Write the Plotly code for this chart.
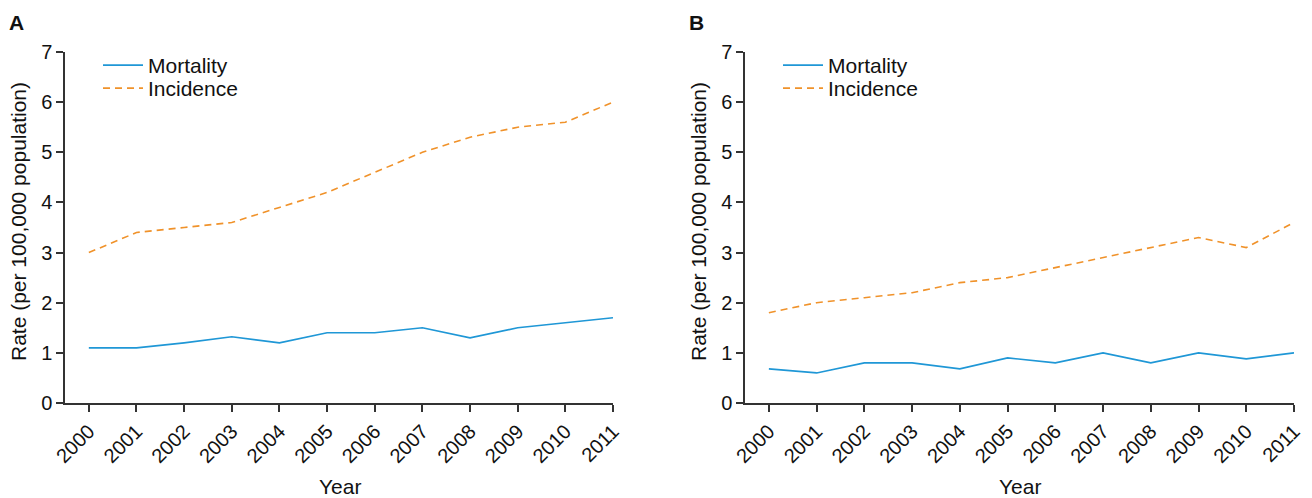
import plotly.graph_objects as go

years = [2000, 2001, 2002, 2003, 2004, 2005, 2006, 2007, 2008, 2009, 2010, 2011]
mortality_a = [1.1, 1.1, 1.2, 1.32, 1.2, 1.4, 1.4, 1.5, 1.3, 1.5, 1.6, 1.7]
incidence_a = [3.0, 3.4, 3.5, 3.6, 3.9, 4.2, 4.6, 5.0, 5.3, 5.5, 5.6, 6.0]
mortality_b = [0.68, 0.6, 0.8, 0.8, 0.68, 0.9, 0.8, 1.0, 0.8, 1.0, 0.88, 1.0]
incidence_b = [1.8, 2.0, 2.1, 2.2, 2.4, 2.5, 2.7, 2.9, 3.1, 3.3, 3.1, 3.6]

BLUE = "#1f97d6"
ORANGE = "#f0922a"
FONT = "Liberation Sans, Arial, sans-serif"
OFF = 8            # page body margin
W, H = 1304, 490   # figure size
TICK_FS = 20
FS = 21


def px(sx):
    return (sx - OFF) / W


def py(sy):
    return 1 - (sy - OFF) / H


fig = go.Figure()
panels = [(mortality_a, incidence_a, "x", "y", "legend", "legend3"),
          (mortality_b, incidence_b, "x2", "y2", "legend2", "legend4")]
for m, inc, xa, ya, lg_m, lg_i in panels:
    fig.add_trace(go.Scatter(x=years, y=m, mode="lines", name="Mortality",
                             line=dict(color=BLUE, width=1.6), xaxis=xa, yaxis=ya, legend=lg_m))
    fig.add_trace(go.Scatter(x=years, y=inc, mode="lines", name="Incidence",
                             line=dict(color=ORANGE, width=1.6, dash="7px,5px"), xaxis=xa, yaxis=ya, legend=lg_i))

ydom = [py(403), py(52)]
axis_common = dict(showline=True, linecolor="#333", linewidth=1.5, ticks="outside",
                   ticklen=7, tickwidth=1.5, tickcolor="#333", showgrid=False, zeroline=False,
                   automargin=False, tickfont=dict(family=FONT, size=TICK_FS, color="#111"))
leg_common = dict(xanchor="left", yanchor="top", bgcolor="rgba(0,0,0,0)",
                  font=dict(family=FONT, size=FS, color="#111"), tracegroupgap=0, itemwidth=40)
fig.update_layout(
    width=W, height=H, margin=dict(l=0, r=0, t=0, b=0, pad=0), autosize=False,
    plot_bgcolor="white", paper_bgcolor="white",
    font=dict(family=FONT, size=FS, color="#111"),
    xaxis=dict(domain=[px(65), px(613)], range=[1999.5, 2011], tickvals=years, tickangle=-45, anchor="y", **axis_common),
    yaxis=dict(domain=ydom, range=[0, 7], dtick=1, anchor="x", **axis_common),
    xaxis2=dict(domain=[px(745), px(1294)], range=[1999.5, 2011], tickvals=years, tickangle=-45, anchor="y2", **axis_common),
    yaxis2=dict(domain=ydom, range=[0, 7], dtick=1, anchor="x2", **axis_common),
    legend=dict(x=px(98), y=py(45), **leg_common),
    legend3=dict(x=px(98), y=py(68), **leg_common),
    legend2=dict(x=px(778), y=py(45), **leg_common),
    legend4=dict(x=px(778), y=py(68), **leg_common),
    showlegend=True,
)

ann = []
for lbl, x in [("A", 7), ("B", 687)]:
    ann.append(dict(text="<b>%s</b>" % lbl, x=px(x), y=py(22), xref="paper", yref="paper",
                    xanchor="left", yanchor="middle", showarrow=False, font=dict(family=FONT, size=21, color="#111")))
for x in [18, 698]:
    ann.append(dict(text="Rate (per 100,000 population)", x=px(x), y=py(222), xref="paper", yref="paper",
                    textangle=-90, xanchor="center", yanchor="middle", showarrow=False,
                    font=dict(family=FONT, size=FS, color="#111")))
for x in [340, 1020]:
    ann.append(dict(text="Year", x=px(x), y=py(486), xref="paper", yref="paper",
                    xanchor="center", yanchor="middle", showarrow=False,
                    font=dict(family=FONT, size=FS, color="#111")))
fig.update_layout(annotations=ann)

fig.write_html("out.html")
